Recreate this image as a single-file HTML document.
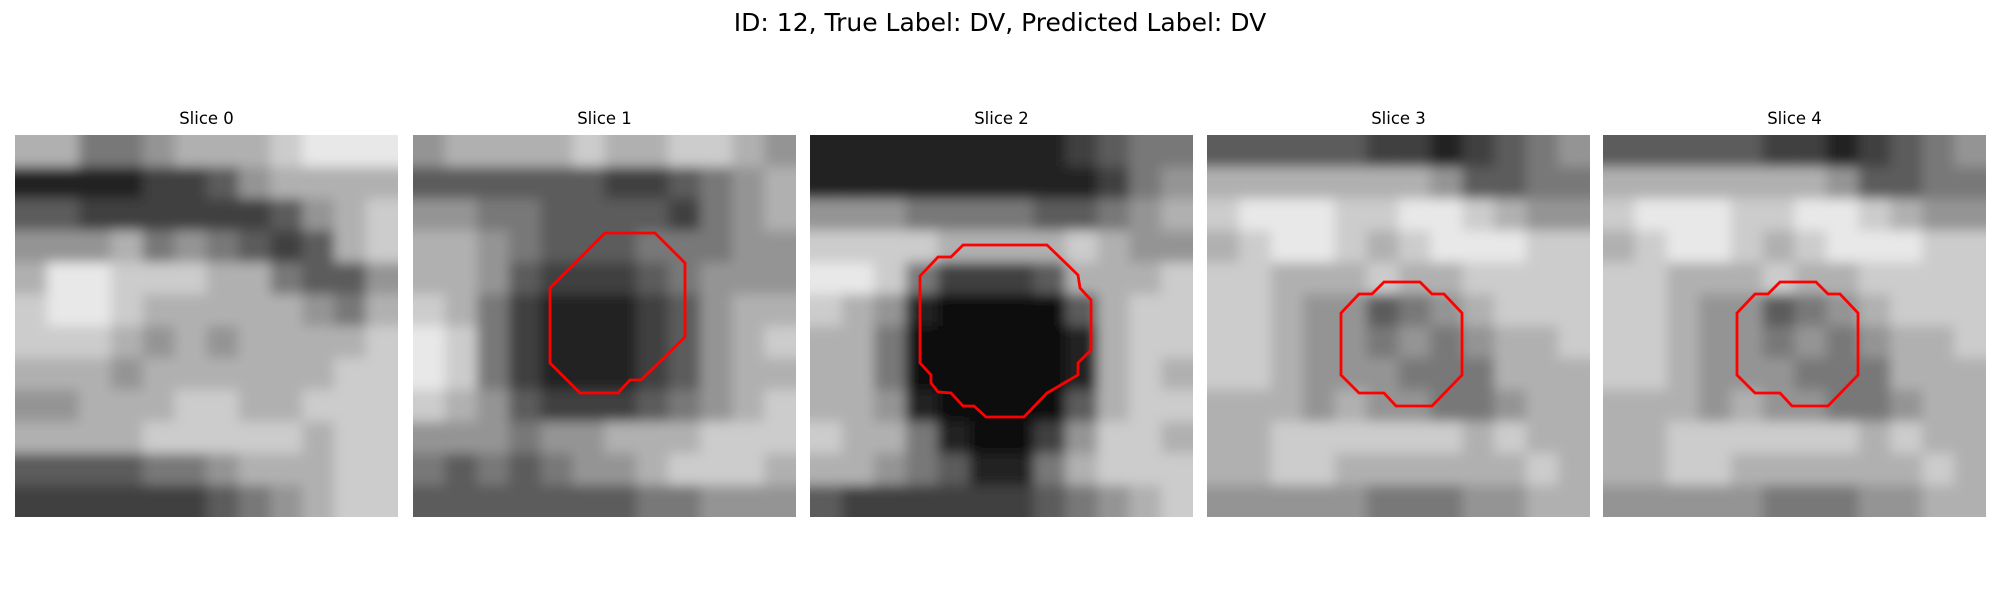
<!DOCTYPE html>
<html><head><meta charset="utf-8"><style>
html,body{margin:0;padding:0;background:#fff;}
body{width:2000px;height:600px;position:relative;overflow:hidden;font-family:"DejaVu Sans","Liberation Sans",sans-serif;}
#title{position:absolute;left:0;width:2000px;top:8px;text-align:center;font-size:25px;color:#000;}
.st{position:absolute;width:383px;text-align:center;top:109px;font-size:16.5px;color:#000;}
svg{position:absolute;top:0;left:0;}
</style></head><body>
<div id="title">ID: 12, True Label: DV, Predicted Label: DV</div>
<div class="st" style="left:15px">Slice 0</div>
<div class="st" style="left:413px">Slice 1</div>
<div class="st" style="left:810px">Slice 2</div>
<div class="st" style="left:1207px">Slice 3</div>
<div class="st" style="left:1603px">Slice 4</div>
<svg id="fig" width="2000" height="600">
<defs><filter id="bl" x="0" y="0" width="1" height="1"><feGaussianBlur stdDeviation="6"/></filter></defs>
</svg>
<script>
const slice0=["664456667888","111122356666","332222223567","555645432367","688777664335","788766666546","777656566667","666566666677","556667766777","666677777677","333344566677","222222345677"];
const slice1=["566667667765","333333223456","554433332456","665433344455","665322234555","764211123566","874211123567","874211123566","765322234567","555455666777","434345567776","333333344555"];
const slice2=["111111112344","111111111245","555444433456","777766667655","887422236667","765100003677","664000001677","664000001676","665100003677","766410025776","665431146777","322222234567"];
const slice3=["333332212345","666666653344","788877887655","678876788877","776667667777","776553456777","776554545667","776555444666","666565544566","667777776766","667766666676","555554445566"];
const slice4=slice3;
const slices=[slice0,slice1,slice2,slice3,slice4];
const contour1=[[192,98],[242,98],[272,128],[272,202],[228,245],[217,245],[205,258],[167,258],[137,228],[137,153]];
const contour2=[[153,110],[237,110],[268,140],[270,153],[281,165],[281,215],[268,228],[268,240],[237,258],[214,282],[176,282],[164,271],[153,271],[141,258],[128,257],[121,248],[121,240],[110,228],[110,141],[128,122],[141,122]];
const contour3=[[177,147],[213,147],[225,159],[237,159],[255,178],[255,240],[225,271],[189,271],[177,258],[152,258],[134,240],[134,178],[152,159],[165,159]];
const contours=[null,contour1,contour2,contour3,contour3];
const lefts=[15,413,810,1207,1603];
const NS="http://www.w3.org/2000/svg";
const svg=document.getElementById('fig');
const W=383,H=382,TOP=135;
slices.forEach((g,i)=>{
  const grp=document.createElementNS(NS,'g');
  
  
  grp.setAttribute('transform','translate('+lefts[i]+','+TOP+')');
  const cells=document.createElementNS(NS,'g');
  cells.setAttribute('filter','url(#bl)');
  const n=g.length,cw=W/g[0].length,ch=H/n;
  g.forEach((row,r)=>{[...row].forEach((v,c)=>{
    const rc=document.createElementNS(NS,'rect');
    
    
    const x0=c*cw-(c==0?20:0), y0=r*ch-(r==0?20:0);
    const x1=(c+1)*cw+(c==row.length-1?20:0), y1=(r+1)*ch+(r==n-1?20:0);
    rc.setAttribute('x',x0);rc.setAttribute('y',y0);
    rc.setAttribute('width',x1-x0+0.5);rc.setAttribute('height',y1-y0+0.5);
    const gv=Math.min(250,Math.round(8+(+v)*28));
    rc.setAttribute('fill','rgb('+gv+','+gv+','+gv+')');
    cells.appendChild(rc);
  });});
  const cp=document.createElementNS(NS,'clipPath');cp.id='cp'+i;
  const cr=document.createElementNS(NS,'rect');cr.setAttribute('width',W);cr.setAttribute('height',H);
  cp.appendChild(cr);svg.appendChild(cp);
  const wrap=document.createElementNS(NS,'g');wrap.setAttribute('clip-path','url(#cp'+i+')');
  wrap.appendChild(cells);grp.appendChild(wrap);
  if(contours[i]){
    const p=document.createElementNS(NS,'polygon');
    
    
    p.setAttribute('points',contours[i].map(q=>q.join(',')).join(' '));
    p.setAttribute('fill','none');p.setAttribute('stroke','#ff0000');p.setAttribute('stroke-width','2.8');
    grp.appendChild(p);
  }
  svg.appendChild(grp);
});
</script>
</body></html>
